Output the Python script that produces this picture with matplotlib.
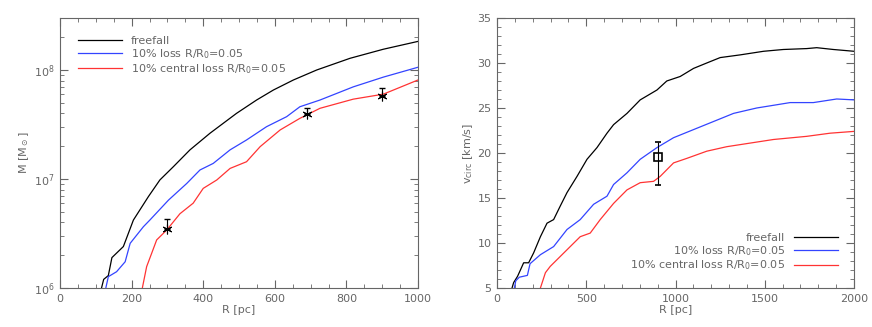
import matplotlib
matplotlib.use("Agg")
import matplotlib.pyplot as plt
from matplotlib.ticker import MultipleLocator, LogLocator, NullFormatter

# -----------------------------
# Data
# -----------------------------

# left panel: enclosed mass M(R)
r_ff = [116, 122, 135, 145, 177, 205, 247, 279, 317, 363, 419, 493, 549, 596, 652, 717, 810,
        903, 1000]
m_ff = [1.0e6, 1.2e6, 1.3e6, 1.9e6, 2.4e6, 4.2e6, 6.9e6, 9.8e6, 1.3e7, 1.85e7, 2.63e7, 4.0e7,
        5.3e7, 6.55e7, 8.1e7, 1.0e8, 1.28e8, 1.55e8, 1.83e8]

r_loss = [128, 135, 158, 182, 196, 233, 251, 303, 354, 391, 428, 475, 521, 577, 633, 670,
          726, 819, 903, 1000]
m_loss = [1.0e6, 1.27e6, 1.41e6, 1.74e6, 2.57e6, 3.65e6, 4.2e6, 6.4e6, 9.1e6, 1.21e7,
          1.39e7, 1.85e7, 2.28e7, 3.02e7, 3.73e7, 4.6e7, 5.3e7, 7.0e7, 8.6e7, 1.06e8]

r_cen = [230, 242, 256, 270, 298, 335, 372, 400, 438, 475, 521, 559, 615, 670, 726, 819,
         903, 1000]
m_cen = [1.0e6, 1.57e6, 2.08e6, 2.76e6, 3.4e6, 4.8e6, 6.0e6, 8.2e6, 9.8e6, 1.25e7, 1.44e7,
         1.98e7, 2.82e7, 3.6e7, 4.45e7, 5.4e7, 6.0e7, 8.1e7]

r_obs = [300, 690, 900]
m_obs = [3.46e6, 3.93e7, 5.77e7]
m_obs_up = [0.81e6, 0.52e7, 1.03e7]

# right panel: circular velocity
rv_ff = [84, 93, 115, 131, 149, 177, 205, 243, 280, 317, 354, 392, 448, 504, 560, 616, 653,
         728, 802, 896, 951, 1026, 1101, 1175, 1250, 1362, 1493, 1604, 1735, 1791, 1884, 2000]
v_ff = [5.0, 5.6, 6.3, 7.0, 7.8, 7.8, 8.9, 10.7, 12.2, 12.6, 14.1, 15.6, 17.4, 19.3, 20.6,
        22.2, 23.15, 24.4, 25.9, 27.0, 28.0, 28.5, 29.4, 30.0, 30.6, 30.9, 31.3, 31.5, 31.6,
        31.7, 31.5, 31.3]

rv_loss = [97, 105, 125, 170, 185, 243, 317, 392, 466, 541, 616, 653, 728, 802, 896, 989,
           1101, 1213, 1325, 1455, 1549, 1642, 1772, 1903, 2000]
v_loss = [5.0, 5.8, 6.2, 6.4, 7.7, 8.7, 9.6, 11.5, 12.6, 14.3, 15.2, 16.5, 17.8, 19.3, 20.6,
          21.7, 22.6, 23.5, 24.4, 25.0, 25.3, 25.6, 25.6, 26.0, 25.9]

rv_cen = [243, 271, 298, 354, 410, 466, 522, 578, 653, 728, 802, 877, 914, 989, 1063, 1175,
          1287, 1418, 1549, 1735, 1866, 2000]
v_cen = [5.0, 6.7, 7.4, 8.5, 9.6, 10.7, 11.1, 12.6, 14.4, 15.9, 16.7, 16.85, 17.4, 18.9,
         19.4, 20.2, 20.7, 21.1, 21.5, 21.85, 22.2, 22.4]

rv_obs = [900]
v_obs = [19.5]
v_obs_err = [[3.1], [1.7]]

labels = ["freefall", "10% loss R/R$_0$=0.05", "10% central loss R/R$_0$=0.05"]

# -----------------------------
# Figure
# -----------------------------

grey = "#666666"
plt.rcParams["font.size"] = 8
plt.rcParams["text.color"] = grey
plt.rcParams["axes.labelcolor"] = grey
plt.rcParams["axes.edgecolor"] = grey
plt.rcParams["xtick.color"] = grey
plt.rcParams["ytick.color"] = grey
plt.rcParams["axes.linewidth"] = 0.8

fig = plt.figure(figsize=(8.72, 3.27), dpi=100)
ax1 = fig.add_axes([0.0688, 0.1193, 0.4106, 0.8257])
ax2 = fig.add_axes([0.570, 0.1193, 0.4094, 0.8257])

# left panel
ax1.plot(r_ff, m_ff, color="black", lw=0.9, label=labels[0])
ax1.plot(r_loss, m_loss, color="#3344ff", lw=0.9, label=labels[1])
ax1.plot(r_cen, m_cen, color="#ff3333", lw=0.9, label=labels[2])
ax1.errorbar(r_obs, m_obs, yerr=[[0, 0, 0], m_obs_up], fmt="none", ecolor="black",
             elinewidth=0.8, capsize=2)
ax1.plot(r_obs, m_obs, ls="none", marker=(6, 2, 0), color="black", ms=7, mew=0.8)

ax1.set_yscale("log")
ax1.set_xlim(0, 1000)
ax1.set_ylim(1e6, 3e8)
ax1.xaxis.set_major_locator(MultipleLocator(200))
ax1.xaxis.set_minor_locator(MultipleLocator(50))
ax1.yaxis.set_major_locator(LogLocator(base=10, numticks=10))
ax1.yaxis.set_minor_locator(LogLocator(base=10, subs=range(2, 10), numticks=20))
ax1.yaxis.set_minor_formatter(NullFormatter())
ax1.set_xlabel("R [pc]", labelpad=1)
ax1.set_ylabel("M [M$_\\odot$]", labelpad=2)
ax1.legend(loc="upper left", frameon=False, handlelength=4, borderaxespad=1.2,
           labelspacing=0.1, fontsize=8)

# right panel
ax2.plot(rv_ff, v_ff, color="black", lw=0.9, label=labels[0])
ax2.plot(rv_loss, v_loss, color="#3344ff", lw=0.9, label=labels[1])
ax2.plot(rv_cen, v_cen, color="#ff3333", lw=0.9, label=labels[2])
ax2.errorbar(rv_obs, v_obs, yerr=v_obs_err, fmt="s", mfc="none", mec="black",
             ecolor="black", ms=6, mew=1.2, elinewidth=0.8, capsize=2)

ax2.set_xlim(0, 2000)
ax2.set_ylim(5, 35)
ax2.xaxis.set_major_locator(MultipleLocator(500))
ax2.xaxis.set_minor_locator(MultipleLocator(100))
ax2.yaxis.set_major_locator(MultipleLocator(5))
ax2.yaxis.set_minor_locator(MultipleLocator(1))
ax2.set_xlabel("R [pc]", labelpad=1)
ax2.set_ylabel("v$_{\\rm circ}$ [km/s]", labelpad=2)
ax2.legend(loc="lower right", frameon=False, handlelength=4, markerfirst=False,
           borderaxespad=1.0, labelspacing=0.1, fontsize=8)

for ax in (ax1, ax2):
    ax.tick_params(which="both", direction="in", top=True, right=True, labelsize=8, pad=4)
    ax.tick_params(which="major", length=6)
    ax.tick_params(which="minor", length=3)

fig.savefig("out.png", dpi=100)
